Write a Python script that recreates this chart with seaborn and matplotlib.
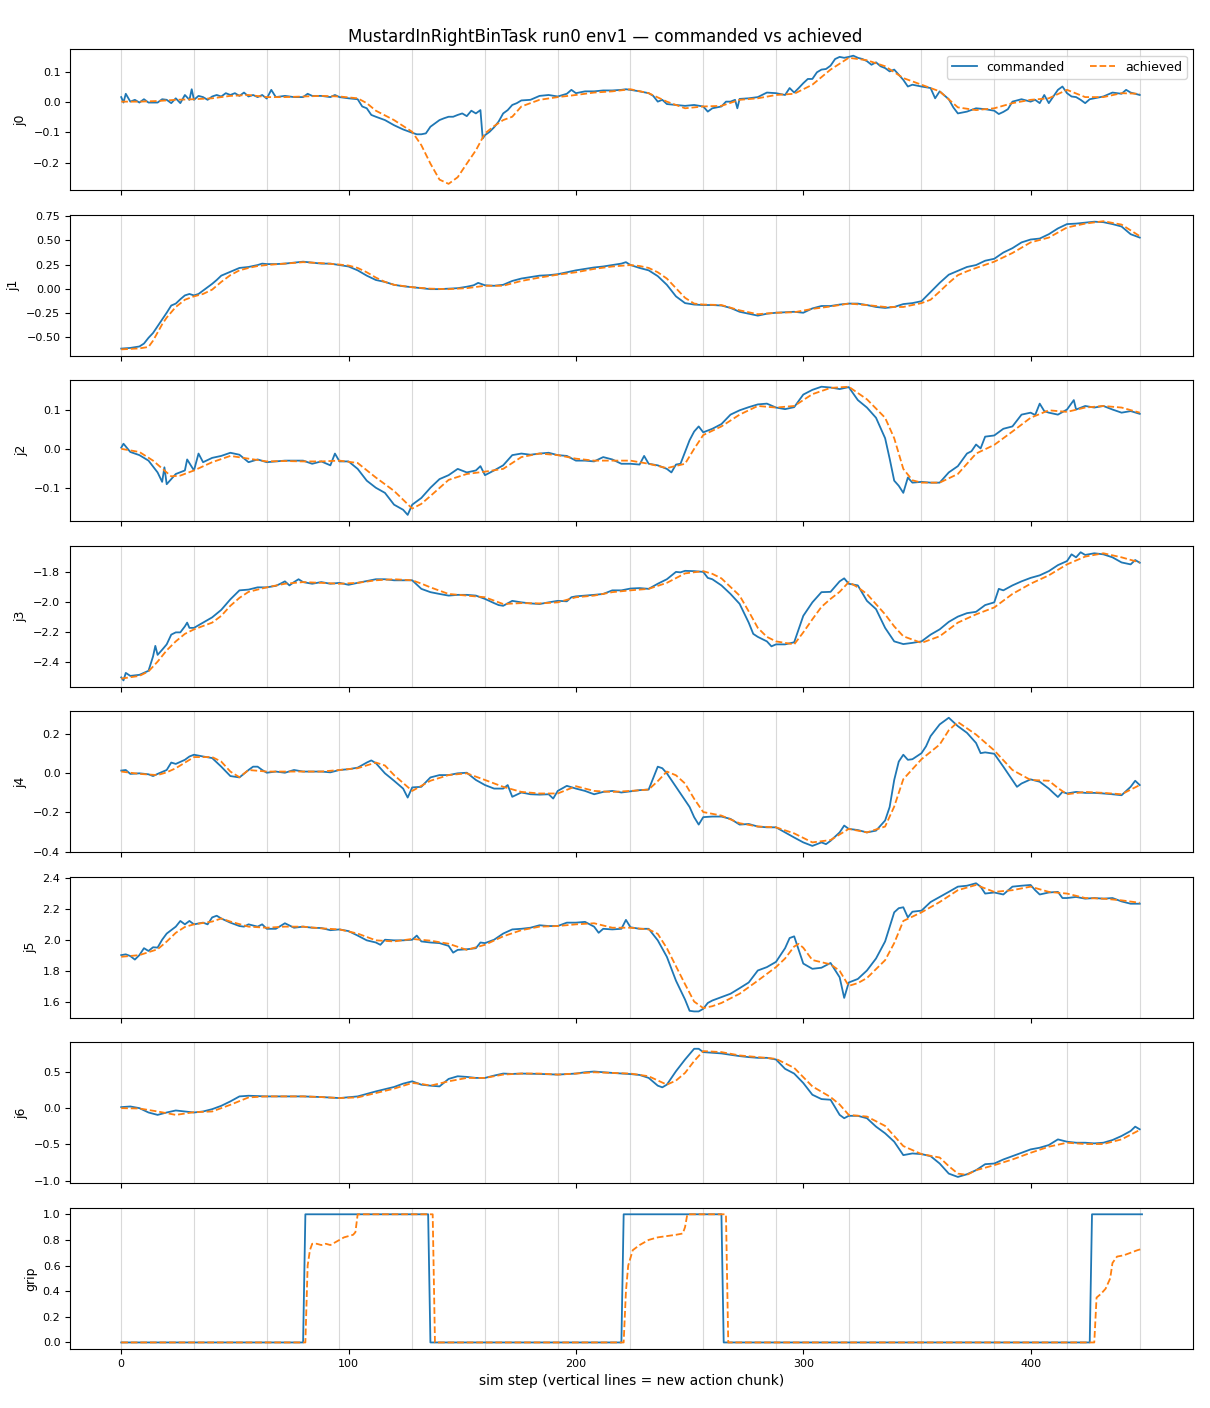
import numpy as np
import matplotlib
matplotlib.use("Agg")
import matplotlib.pyplot as plt
import seaborn as sns

# (sim step, value) pairs
j0_cmd = [(0,0.017),(1,-0.001),(2,0.028),(4,0.002),(6,0.008),(8,-0.001),(10,0.010),(12,-0.001),(16,-0.001),(18,0.010),(20,0.008),(22,-0.003),(24,0.013),(26,-0.003),(28,0.024),(30,0.008),(31,0.043),(32,0.008),(34,0.021),(36,0.017),(38,0.008),(40,0.019),(42,0.024),(44,0.019),(46,0.030),(48,0.024),(50,0.030),(52,0.021),(54,0.032),(56,0.019),(58,0.024),(60,0.017),(62,0.024),(64,0.012),(66,0.041),(68,0.017),(72,0.021),(76,0.017),(80,0.017),(82,0.028),(84,0.021),(88,0.021),(92,0.017),(94,0.024),(96,0.017),(100,0.013),(104,0.010),(106,-0.014),(108,-0.020),(110,-0.042),(112,-0.048),(116,-0.059),(120,-0.076),(124,-0.090),(128,-0.101),(130,-0.106),(132,-0.106),(134,-0.103),(136,-0.081),(138,-0.070),(140,-0.059),(142,-0.053),(144,-0.048),(146,-0.048),(148,-0.042),(150,-0.037),(152,-0.046),(154,-0.028),(156,-0.037),(158,-0.026),(159,-0.120),(160,-0.109),(162,-0.098),(164,-0.083),(166,-0.064),(168,-0.037),(170,-0.026),(172,-0.009),(174,-0.003),(176,0.006),(180,0.008),(184,0.021),(188,0.024),(192,0.019),(196,0.028),(198,0.041),(200,0.030),(204,0.036),(208,0.036),(212,0.039),(216,0.039),(220,0.041),(222,0.043),(224,0.041),(228,0.036),(232,0.030),(234,0.021),(236,0.002),(238,0.008),(240,-0.006),(244,-0.009),(248,-0.012),(252,-0.009),(256,-0.014),(258,-0.031),(260,-0.020),(262,-0.017),(264,-0.014),(266,0.002),(268,0.002),(270,0.008),(271,-0.020),(272,0.011),(276,0.013),(280,0.017),(284,0.032),(288,0.030),(292,0.024),(294,0.047),(296,0.032),(298,0.047),(300,0.063),(302,0.077),(304,0.077),(306,0.099),(308,0.108),(310,0.110),(312,0.121),(314,0.143),(316,0.150),(318,0.147),(320,0.150),(322,0.154),(324,0.147),(326,0.143),(328,0.136),(330,0.124),(332,0.132),(334,0.119),(336,0.113),(338,0.102),(340,0.108),(342,0.091),(344,0.074),(346,0.052),(348,0.058),(352,0.052),(356,0.047),(358,0.013),(360,0.036),(364,0.010),(366,-0.017),(368,-0.037),(370,-0.034),(372,-0.031),(376,-0.020),(380,-0.023),(384,-0.028),(386,-0.039),(388,-0.032),(390,-0.023),(392,0.002),(396,0.010),(400,0.002),(402,0.008),(404,-0.003),(406,0.024),(408,-0.003),(410,0.019),(412,0.041),(414,0.052),(416,0.030),(418,0.019),(420,0.017),(422,0.008),(424,-0.003),(426,0.010),(428,0.013),(432,0.019),(436,0.032),(440,0.028),(442,0.041),(444,0.032),(448,0.024)]
j0_ach = [(0,0.002),(8,0.002),(16,0.004),(24,0.008),(32,0.010),(40,0.013),(48,0.021),(56,0.024),(64,0.017),(72,0.017),(80,0.019),(88,0.021),(96,0.019),(104,0.013),(108,-0.003),(112,-0.028),(120,-0.059),(128,-0.098),(132,-0.142),(136,-0.203),(140,-0.256),(144,-0.270),(148,-0.248),(152,-0.203),(156,-0.159),(160,-0.103),(164,-0.079),(168,-0.059),(172,-0.048),(176,-0.014),(184,0.008),(192,0.017),(200,0.024),(208,0.032),(216,0.036),(224,0.043),(232,0.030),(240,0.002),(248,-0.020),(256,-0.014),(264,-0.012),(272,0.008),(280,0.013),(288,0.024),(296,0.028),(304,0.058),(312,0.108),(320,0.147),(328,0.139),(336,0.119),(344,0.080),(352,0.058),(360,0.036),(368,-0.017),(376,-0.026),(384,-0.020),(392,-0.003),(400,0.008),(408,0.013),(416,0.041),(424,0.017),(432,0.017),(440,0.030),(448,0.028)]

j1_cmd = [(0,-0.622),(4,-0.615),(8,-0.60),(10,-0.57),(12,-0.51),(14,-0.46),(16,-0.39),(18,-0.32),(20,-0.25),(22,-0.175),(24,-0.155),(26,-0.11),(28,-0.07),(30,-0.055),(32,-0.07),(34,-0.055),(36,-0.02),(38,0.015),(40,0.05),(42,0.09),(44,0.135),(46,0.155),(48,0.175),(50,0.195),(52,0.215),(54,0.22),(56,0.225),(58,0.235),(60,0.245),(62,0.26),(64,0.255),(68,0.255),(72,0.26),(76,0.27),(80,0.28),(84,0.27),(88,0.26),(92,0.26),(96,0.245),(100,0.23),(104,0.19),(108,0.135),(112,0.09),(116,0.07),(120,0.04),(124,0.025),(128,0.015),(132,0.005),(136,-0.005),(140,-0.005),(144,0.0),(148,0.005),(152,0.02),(155,0.035),(157,0.06),(160,0.035),(164,0.03),(168,0.04),(172,0.08),(176,0.105),(180,0.12),(184,0.135),(188,0.14),(192,0.15),(196,0.17),(200,0.19),(204,0.205),(208,0.22),(212,0.23),(216,0.245),(220,0.26),(222,0.275),(224,0.245),(228,0.215),(232,0.19),(236,0.13),(240,0.04),(244,-0.08),(248,-0.15),(252,-0.165),(256,-0.17),(260,-0.17),(264,-0.175),(268,-0.2),(272,-0.24),(276,-0.26),(280,-0.28),(284,-0.26),(288,-0.25),(292,-0.245),(296,-0.24),(300,-0.25),(304,-0.205),(308,-0.18),(312,-0.18),(316,-0.165),(320,-0.155),(324,-0.155),(328,-0.17),(332,-0.19),(336,-0.2),(340,-0.19),(344,-0.16),(348,-0.15),(352,-0.13),(356,-0.035),(360,0.06),(364,0.145),(368,0.185),(372,0.225),(376,0.245),(380,0.29),(384,0.31),(388,0.375),(392,0.42),(396,0.48),(400,0.51),(404,0.52),(408,0.565),(412,0.625),(416,0.67),(420,0.675),(424,0.685),(428,0.695),(432,0.69),(436,0.67),(440,0.645),(444,0.565),(448,0.53)]
j1_ach = [(0,-0.63),(8,-0.62),(12,-0.605),(14,-0.54),(18,-0.37),(20,-0.30),(24,-0.19),(28,-0.115),(32,-0.08),(36,-0.055),(40,-0.01),(44,0.07),(48,0.14),(52,0.19),(56,0.215),(60,0.235),(64,0.245),(72,0.26),(80,0.275),(88,0.265),(96,0.25),(100,0.24),(104,0.215),(108,0.17),(112,0.115),(116,0.07),(120,0.04),(128,0.015),(136,0.0),(144,-0.005),(152,0.005),(160,0.03),(168,0.03),(176,0.08),(184,0.115),(192,0.145),(200,0.17),(208,0.205),(216,0.23),(224,0.245),(228,0.235),(232,0.215),(236,0.17),(240,0.105),(244,0.005),(248,-0.095),(252,-0.155),(256,-0.165),(264,-0.17),(272,-0.225),(280,-0.265),(288,-0.25),(296,-0.245),(304,-0.21),(312,-0.185),(320,-0.155),(328,-0.17),(336,-0.19),(344,-0.19),(352,-0.15),(356,-0.115),(360,-0.03),(364,0.06),(368,0.14),(372,0.18),(376,0.215),(384,0.28),(392,0.37),(400,0.48),(408,0.53),(416,0.635),(424,0.675),(432,0.70),(440,0.665),(448,0.545)]

j2_cmd = [(0,0.003),(1,0.013),(4,-0.008),(8,-0.016),(12,-0.03),(16,-0.06),(18,-0.084),(19,-0.047),(20,-0.09),(24,-0.064),(28,-0.055),(29,-0.027),(32,-0.055),(34,-0.012),(36,-0.034),(40,-0.023),(44,-0.018),(48,-0.01),(52,-0.015),(56,-0.034),(60,-0.027),(64,-0.034),(68,-0.032),(72,-0.03),(76,-0.03),(80,-0.03),(84,-0.038),(88,-0.032),(92,-0.042),(94,-0.012),(96,-0.032),(100,-0.032),(104,-0.051),(108,-0.081),(112,-0.099),(116,-0.112),(120,-0.142),(124,-0.155),(126,-0.168),(128,-0.142),(132,-0.125),(136,-0.099),(140,-0.077),(144,-0.067),(148,-0.051),(152,-0.06),(156,-0.055),(158,-0.044),(160,-0.067),(164,-0.055),(168,-0.042),(172,-0.016),(176,-0.012),(180,-0.015),(184,-0.012),(188,-0.01),(192,-0.016),(196,-0.018),(200,-0.03),(204,-0.03),(208,-0.032),(212,-0.021),(216,-0.027),(220,-0.038),(224,-0.038),(228,-0.04),(230,-0.018),(232,-0.038),(236,-0.042),(240,-0.051),(242,-0.06),(244,-0.04),(246,-0.038),(248,-0.008),(250,0.022),(252,0.044),(254,0.057),(256,0.042),(260,0.051),(264,0.063),(268,0.087),(272,0.098),(276,0.106),(280,0.113),(284,0.115),(288,0.105),(292,0.101),(296,0.106),(300,0.138),(304,0.15),(308,0.158),(312,0.156),(316,0.152),(320,0.157),(324,0.124),(328,0.105),(332,0.079),(336,0.027),(338,-0.025),(340,-0.081),(342,-0.094),(344,-0.112),(346,-0.073),(348,-0.086),(352,-0.084),(356,-0.086),(360,-0.086),(364,-0.06),(368,-0.044),(372,-0.012),(374,-0.006),(376,0.011),(378,0.001),(380,0.031),(384,0.034),(388,0.051),(392,0.057),(396,0.087),(400,0.092),(402,0.086),(404,0.115),(406,0.096),(408,0.092),(412,0.087),(416,0.1),(419,0.124),(420,0.1),(424,0.109),(428,0.105),(432,0.109),(436,0.1),(440,0.092),(444,0.096),(448,0.089)]
j2_ach = [(0,0.0),(8,-0.008),(14,-0.03),(18,-0.05),(22,-0.07),(26,-0.068),(32,-0.055),(40,-0.034),(48,-0.018),(56,-0.025),(64,-0.032),(72,-0.031),(80,-0.032),(88,-0.032),(96,-0.03),(104,-0.036),(112,-0.073),(120,-0.107),(128,-0.152),(132,-0.14),(136,-0.12),(144,-0.079),(152,-0.064),(160,-0.058),(168,-0.051),(176,-0.021),(184,-0.012),(192,-0.016),(200,-0.025),(208,-0.03),(216,-0.03),(224,-0.03),(232,-0.038),(240,-0.049),(248,-0.038),(252,0.0),(256,0.035),(264,0.057),(272,0.087),(280,0.109),(288,0.105),(296,0.109),(304,0.139),(312,0.155),(320,0.158),(328,0.126),(336,0.079),(340,0.027),(344,-0.051),(348,-0.08),(352,-0.086),(360,-0.086),(368,-0.064),(376,-0.012),(384,0.01),(392,0.044),(400,0.079),(408,0.098),(416,0.094),(424,0.105),(432,0.109),(440,0.105),(448,0.092)]

j3_cmd = [(0,-2.50),(1,-2.52),(2,-2.47),(4,-2.49),(8,-2.483),(12,-2.456),(14,-2.36),(15,-2.29),(16,-2.35),(18,-2.316),(20,-2.28),(22,-2.215),(24,-2.2),(26,-2.2),(28,-2.16),(29,-2.135),(30,-2.17),(32,-2.17),(36,-2.135),(40,-2.1),(44,-2.05),(48,-1.98),(52,-1.92),(56,-1.915),(60,-1.9),(64,-1.9),(68,-1.89),(70,-1.876),(72,-1.86),(74,-1.887),(76,-1.865),(78,-1.846),(80,-1.865),(84,-1.876),(88,-1.865),(92,-1.876),(96,-1.87),(100,-1.883),(104,-1.87),(108,-1.858),(112,-1.846),(116,-1.846),(120,-1.853),(124,-1.853),(128,-1.853),(132,-1.91),(136,-1.932),(140,-1.944),(144,-1.955),(148,-1.95),(152,-1.95),(156,-1.955),(160,-1.977),(164,-2.005),(166,-2.018),(168,-2.023),(172,-1.99),(176,-2.0),(180,-2.007),(184,-2.011),(188,-2.0),(192,-1.99),(196,-1.993),(198,-1.966),(200,-1.96),(204,-1.955),(208,-1.95),(212,-1.944),(216,-1.92),(220,-1.92),(224,-1.908),(228,-1.905),(232,-1.91),(236,-1.876),(240,-1.846),(244,-1.797),(246,-1.8),(248,-1.79),(252,-1.792),(256,-1.797),(258,-1.837),(260,-1.846),(264,-1.887),(268,-1.944),(272,-2.01),(276,-2.135),(278,-2.21),(280,-2.23),(284,-2.26),(286,-2.293),(288,-2.28),(292,-2.28),(296,-2.266),(300,-2.09),(304,-2.0),(308,-1.932),(312,-1.93),(316,-1.86),(318,-1.84),(320,-1.876),(324,-1.887),(328,-1.99),(332,-2.045),(336,-2.17),(340,-2.26),(344,-2.278),(348,-2.27),(352,-2.26),(356,-2.215),(360,-2.18),(364,-2.13),(368,-2.095),(372,-2.072),(376,-2.063),(380,-2.018),(384,-2.0),(386,-1.91),(388,-1.92),(392,-1.887),(396,-1.86),(400,-1.837),(404,-1.82),(408,-1.792),(412,-1.752),(416,-1.725),(418,-1.68),(420,-1.70),(422,-1.666),(424,-1.684),(428,-1.673),(432,-1.68),(436,-1.70),(440,-1.734),(444,-1.747),(446,-1.718),(448,-1.736)]
j3_ach = [(0,-2.508),(8,-2.49),(12,-2.46),(16,-2.395),(20,-2.32),(24,-2.26),(28,-2.21),(32,-2.18),(40,-2.135),(44,-2.09),(48,-2.023),(52,-1.97),(56,-1.93),(64,-1.9),(72,-1.876),(80,-1.865),(88,-1.87),(96,-1.876),(104,-1.87),(112,-1.853),(120,-1.846),(128,-1.853),(132,-1.875),(136,-1.9),(144,-1.944),(152,-1.955),(160,-1.966),(168,-2.011),(176,-2.005),(184,-2.007),(192,-2.0),(200,-1.966),(208,-1.955),(216,-1.932),(224,-1.92),(232,-1.91),(240,-1.87),(248,-1.807),(256,-1.792),(260,-1.81),(264,-1.84),(272,-1.955),(276,-2.06),(280,-2.17),(284,-2.23),(288,-2.26),(296,-2.28),(300,-2.2),(304,-2.113),(308,-2.03),(312,-1.977),(316,-1.93),(320,-1.865),(324,-1.9),(328,-1.944),(336,-2.08),(340,-2.16),(344,-2.226),(352,-2.27),(360,-2.226),(368,-2.135),(376,-2.08),(384,-2.034),(392,-1.944),(400,-1.876),(408,-1.82),(416,-1.747),(424,-1.695),(432,-1.673),(440,-1.7),(448,-1.734)]

j4_cmd = [(0,0.014),(2,0.017),(4,-0.003),(8,0.0),(12,-0.005),(14,-0.014),(16,-0.003),(20,0.017),(22,0.055),(24,0.048),(28,0.069),(30,0.086),(32,0.095),(36,0.086),(40,0.078),(44,0.034),(48,-0.014),(52,-0.021),(56,0.017),(58,0.034),(60,0.034),(62,0.017),(64,0.003),(68,0.009),(72,0.003),(76,0.017),(80,0.009),(84,0.009),(88,0.009),(92,0.005),(96,0.017),(100,0.021),(104,0.029),(108,0.055),(110,0.066),(112,0.052),(116,0.0),(120,-0.038),(124,-0.078),(126,-0.124),(128,-0.072),(132,-0.069),(136,-0.021),(140,-0.009),(144,-0.009),(148,0.0),(152,0.003),(156,-0.034),(160,-0.06),(164,-0.078),(168,-0.078),(170,-0.06),(172,-0.12),(176,-0.098),(180,-0.107),(184,-0.109),(188,-0.107),(190,-0.129),(192,-0.09),(196,-0.064),(200,-0.078),(204,-0.09),(208,-0.107),(212,-0.095),(216,-0.09),(220,-0.098),(224,-0.092),(228,-0.086),(232,-0.083),(236,0.034),(238,0.026),(240,0.0),(244,-0.069),(248,-0.138),(250,-0.172),(252,-0.224),(254,-0.262),(256,-0.224),(260,-0.221),(264,-0.221),(268,-0.233),(272,-0.262),(276,-0.259),(280,-0.272),(284,-0.276),(288,-0.276),(292,-0.302),(296,-0.328),(300,-0.353),(302,-0.362),(304,-0.371),(308,-0.353),(310,-0.362),(312,-0.345),(316,-0.302),(318,-0.267),(320,-0.284),(324,-0.29),(328,-0.302),(332,-0.293),(336,-0.241),(338,-0.172),(340,-0.034),(342,0.06),(344,0.095),(346,0.069),(348,0.072),(352,0.103),(354,0.138),(356,0.19),(360,0.25),(364,0.284),(368,0.241),(372,0.207),(376,0.155),(378,0.103),(380,0.107),(384,0.1),(388,0.034),(392,-0.034),(394,-0.069),(396,-0.052),(400,-0.031),(404,-0.043),(408,-0.078),(410,-0.1),(412,-0.121),(414,-0.095),(416,-0.103),(420,-0.095),(424,-0.1),(428,-0.1),(432,-0.103),(436,-0.107),(440,-0.112),(444,-0.069),(446,-0.038),(448,-0.06)]
j4_ach = [(0,0.009),(8,-0.003),(16,-0.009),(20,0.005),(24,0.026),(32,0.083),(40,0.083),(44,0.06),(48,0.009),(52,-0.02),(56,0.017),(64,0.009),(72,0.009),(80,0.009),(88,0.009),(96,0.017),(104,0.026),(112,0.055),(116,0.04),(120,-0.009),(128,-0.09),(136,-0.038),(144,-0.009),(152,0.0),(160,-0.034),(168,-0.069),(176,-0.095),(184,-0.103),(192,-0.103),(200,-0.066),(208,-0.09),(216,-0.095),(224,-0.09),(232,-0.083),(236,-0.04),(240,0.009),(244,-0.01),(248,-0.052),(252,-0.13),(256,-0.198),(264,-0.216),(272,-0.255),(280,-0.272),(288,-0.276),(296,-0.307),(304,-0.353),(312,-0.341),(320,-0.284),(328,-0.302),(336,-0.272),(340,-0.17),(344,-0.03),(352,0.072),(360,0.147),(364,0.22),(368,0.262),(376,0.198),(384,0.117),(392,0.017),(400,-0.034),(408,-0.038),(412,-0.075),(416,-0.107),(424,-0.095),(432,-0.1),(440,-0.107),(448,-0.06)]

j5_cmd = [(0,1.902),(2,1.907),(4,1.896),(6,1.873),(8,1.902),(10,1.947),(12,1.929),(14,1.953),(16,1.951),(18,2.002),(20,2.042),(24,2.087),(26,2.124),(28,2.102),(30,2.124),(32,2.102),(36,2.113),(38,2.102),(40,2.147),(42,2.158),(44,2.14),(48,2.113),(52,2.091),(54,2.087),(56,2.102),(60,2.087),(62,2.102),(64,2.073),(68,2.073),(72,2.109),(76,2.08),(80,2.087),(84,2.08),(88,2.078),(92,2.064),(96,2.069),(100,2.058),(104,2.029),(108,1.998),(112,1.984),(114,1.969),(116,2.002),(120,1.998),(124,1.998),(128,2.002),(130,2.029),(132,1.991),(136,1.984),(140,1.98),(144,1.962),(146,1.918),(148,1.936),(152,1.94),(156,1.947),(158,1.984),(160,1.98),(164,2.002),(168,2.042),(172,2.069),(176,2.073),(180,2.08),(184,2.096),(188,2.091),(192,2.091),(196,2.113),(200,2.113),(204,2.118),(208,2.087),(210,2.047),(212,2.073),(216,2.069),(220,2.073),(222,2.131),(224,2.083),(228,2.073),(232,2.073),(236,1.998),(240,1.891),(244,1.736),(248,1.613),(250,1.54),(252,1.536),(254,1.536),(256,1.553),(258,1.591),(260,1.607),(264,1.629),(268,1.651),(272,1.687),(276,1.724),(280,1.802),(284,1.824),(288,1.858),(290,1.902),(292,1.947),(294,2.013),(296,2.024),(298,1.936),(300,1.847),(304,1.813),(308,1.82),(312,1.851),(316,1.758),(318,1.624),(320,1.724),(324,1.747),(328,1.802),(332,1.88),(336,1.991),(340,2.18),(342,2.207),(344,2.213),(346,2.147),(348,2.184),(352,2.191),(356,2.247),(360,2.28),(364,2.313),(368,2.347),(372,2.353),(376,2.369),(378,2.347),(380,2.302),(384,2.309),(388,2.296),(392,2.347),(396,2.353),(400,2.358),(402,2.324),(404,2.296),(408,2.309),(412,2.313),(414,2.273),(416,2.273),(420,2.28),(424,2.269),(428,2.273),(432,2.269),(436,2.273),(440,2.251),(444,2.236),(448,2.236)]
j5_ach = [(0,1.891),(8,1.902),(16,1.94),(20,1.99),(24,2.047),(28,2.085),(32,2.102),(40,2.12),(44,2.14),(48,2.12),(56,2.087),(64,2.08),(72,2.087),(80,2.087),(88,2.076),(96,2.069),(104,2.042),(112,1.998),(120,1.991),(128,2.007),(136,1.996),(144,1.976),(152,1.936),(160,1.969),(168,2.024),(176,2.064),(184,2.087),(192,2.091),(200,2.102),(208,2.109),(216,2.08),(224,2.08),(232,2.069),(236,2.04),(240,1.947),(244,1.83),(248,1.713),(252,1.6),(256,1.558),(260,1.57),(264,1.591),(272,1.651),(280,1.736),(288,1.824),(292,1.88),(296,1.958),(298,1.975),(300,1.95),(304,1.87),(312,1.842),(316,1.8),(320,1.702),(324,1.72),(328,1.753),(336,1.869),(340,1.98),(344,2.124),(352,2.18),(360,2.247),(368,2.324),(376,2.358),(384,2.313),(392,2.324),(400,2.347),(408,2.313),(416,2.302),(424,2.273),(432,2.269),(440,2.258),(448,2.242)]

j6_cmd = [(0,0.014),(4,0.023),(8,0.0),(12,-0.06),(16,-0.093),(20,-0.06),(24,-0.032),(28,-0.046),(32,-0.06),(36,-0.046),(40,-0.014),(44,0.032),(48,0.093),(52,0.162),(56,0.171),(64,0.162),(72,0.162),(80,0.162),(88,0.153),(96,0.139),(104,0.162),(112,0.231),(120,0.292),(124,0.338),(128,0.37),(132,0.324),(136,0.31),(140,0.3),(144,0.403),(148,0.44),(152,0.431),(156,0.417),(160,0.417),(164,0.449),(168,0.477),(172,0.472),(176,0.477),(184,0.472),(192,0.463),(200,0.477),(204,0.495),(208,0.505),(216,0.486),(224,0.47),(228,0.458),(232,0.417),(236,0.31),(238,0.287),(240,0.324),(244,0.509),(248,0.671),(252,0.819),(254,0.819),(256,0.773),(260,0.764),(264,0.755),(268,0.736),(272,0.718),(276,0.704),(280,0.694),(284,0.694),(288,0.671),(292,0.542),(296,0.477),(300,0.347),(304,0.185),(308,0.125),(312,0.116),(316,-0.093),(318,-0.139),(320,-0.106),(324,-0.106),(328,-0.139),(332,-0.255),(336,-0.347),(340,-0.463),(344,-0.648),(348,-0.625),(352,-0.634),(356,-0.662),(360,-0.764),(364,-0.903),(368,-0.949),(372,-0.912),(376,-0.856),(380,-0.773),(384,-0.764),(388,-0.708),(392,-0.662),(396,-0.616),(400,-0.569),(404,-0.546),(408,-0.509),(412,-0.431),(416,-0.463),(420,-0.477),(424,-0.477),(428,-0.486),(432,-0.477),(436,-0.44),(440,-0.384),(444,-0.315),(446,-0.255),(448,-0.292)]
j6_ach = [(0,0.0),(8,-0.005),(16,-0.046),(24,-0.093),(32,-0.056),(40,-0.046),(48,0.046),(56,0.148),(64,0.162),(72,0.162),(80,0.162),(88,0.153),(96,0.139),(104,0.148),(112,0.208),(120,0.269),(128,0.347),(132,0.335),(136,0.31),(144,0.37),(152,0.417),(160,0.417),(168,0.463),(176,0.477),(184,0.477),(192,0.463),(200,0.477),(208,0.495),(216,0.486),(224,0.477),(232,0.44),(240,0.324),(244,0.38),(248,0.486),(252,0.65),(256,0.787),(264,0.773),(272,0.727),(280,0.704),(288,0.68),(296,0.556),(304,0.3),(312,0.153),(316,0.05),(320,-0.093),(328,-0.116),(336,-0.245),(344,-0.523),(352,-0.634),(360,-0.681),(364,-0.8),(368,-0.903),(372,-0.92),(376,-0.856),(384,-0.787),(392,-0.708),(400,-0.616),(408,-0.532),(416,-0.477),(424,-0.495),(432,-0.495),(440,-0.431),(448,-0.301)]

grip_cmd = [(0,0),(80,0),(81,1),(135,1),(136,0),(220,0),(221,1),(264,1),(265,0),(426,0),(427,1),(449,1)]
grip_ach = [(0,0),(81,0),(82,0.6),(83,0.72),(84,0.77),(86,0.77),(88,0.76),(90,0.77),(92,0.76),(94,0.78),(96,0.80),(98,0.82),(100,0.83),(102,0.84),(103,0.86),(104,1.0),(137,1.0),(138,0.0),(221,0.0),(222,0.4),(223,0.6),(225,0.72),(228,0.76),(232,0.8),(236,0.82),(240,0.83),(244,0.84),(247,0.85),(248,0.9),(249,1.0),(266,1.0),(267,0.0),(428,0.0),(429,0.35),(431,0.38),(433,0.42),(435,0.5),(436,0.62),(438,0.67),(441,0.68),(444,0.70),(447,0.72),(449,0.73)]

labels = ["j0", "j1", "j2", "j3", "j4", "j5", "j6", "grip"]
commanded = [j0_cmd, j1_cmd, j2_cmd, j3_cmd, j4_cmd, j5_cmd, j6_cmd, grip_cmd]
achieved = [j0_ach, j1_ach, j2_ach, j3_ach, j4_ach, j5_ach, j6_ach, grip_ach]
chunk_starts = np.arange(0, 449, 32)

plt.rcParams['xtick.labelsize'] = 8
plt.rcParams['ytick.labelsize'] = 8

fig, axes = plt.subplots(8, 1, figsize=(12.1, 14.08), dpi=100, sharex=True)
fig.subplots_adjust(left=0.058, right=0.986, top=0.965, bottom=0.042, hspace=0.174)

for ax, name, cmd, ach in zip(axes, labels, commanded, achieved):
    # one thin grey line per new action chunk
    for s in chunk_starts:
        ax.axvline(s, color='0.85', lw=0.8, zorder=0)
    cx, cy = zip(*cmd)
    axx, ayy = zip(*ach)
    sns.lineplot(x=list(cx), y=list(cy), ax=ax, color='C0', lw=1.3, label='commanded', legend=False)
    sns.lineplot(x=list(axx), y=list(ayy), ax=ax, color='C1', lw=1.3, linestyle='--', label='achieved', legend=False)
    ax.set_ylabel(name, fontsize=9)

axes[0].legend(loc='upper right', ncol=2, fontsize=9)
axes[-1].set_xlabel("sim step (vertical lines = new action chunk)", fontsize=10)
fig.suptitle("MustardInRightBinTask run0 env1 — commanded vs achieved", fontsize=12, y=0.98)

fig.savefig("out.png", dpi=100)
